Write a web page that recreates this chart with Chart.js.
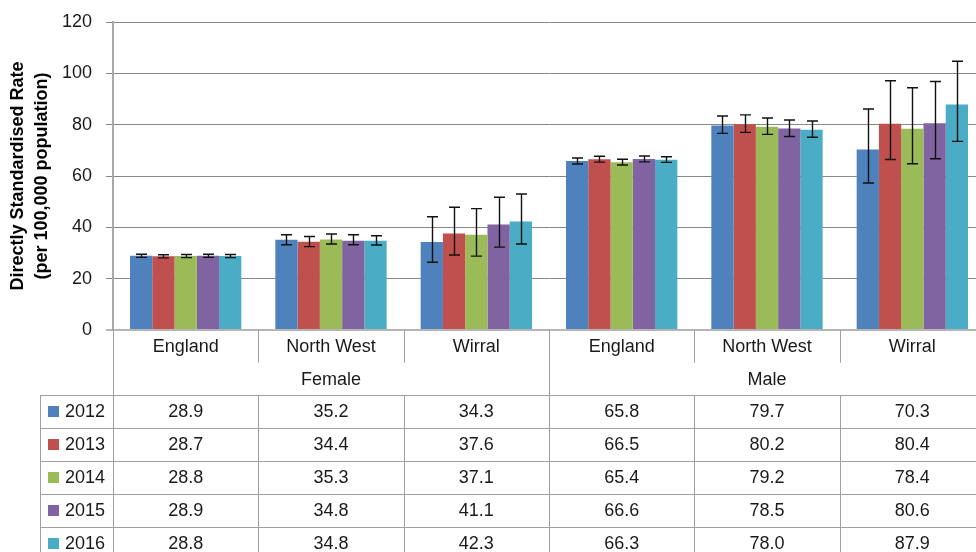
<!DOCTYPE html>
<html>
<head>
<meta charset="utf-8">
<script src="https://cdn.jsdelivr.net/npm/chart.js@4/dist/chart.umd.min.js"></script>
<style>
  html, body { margin: 0; padding: 0; background: #ffffff; overflow: hidden; }
  #wrap { width: 990px; height: 560px; position: relative; }
</style>
</head>
<body>
<div id="wrap"><canvas id="chart" width="990" height="560"></canvas></div>
<script>
// Categories: area within each sex group
const regions = ['England', 'North West', 'Wirral', 'England', 'North West', 'Wirral'];
const sexes = ['Female', 'Male'];
const years = ['2012', '2013', '2014', '2015', '2016'];

// Directly standardised rates per 100,000 population
const rate2012 = [28.9, 35.2, 34.3, 65.8, 79.7, 70.3];
const rate2013 = [28.7, 34.4, 37.6, 66.5, 80.2, 80.4];
const rate2014 = [28.8, 35.3, 37.1, 65.4, 79.2, 78.4];
const rate2015 = [28.9, 34.8, 41.1, 66.6, 78.5, 80.6];
const rate2016 = [28.8, 34.8, 42.3, 66.3, 78.0, 87.9];

// 95% confidence limits
const lower2012 = [28.3, 33.2, 26.4, 64.7, 76.6, 57.3];
const upper2012 = [29.5, 37.1, 44.1, 67.0, 83.4, 86.1];
const lower2013 = [28.1, 32.5, 29.2, 65.4, 77.0, 66.4];
const upper2013 = [29.3, 36.4, 47.8, 67.7, 83.8, 97.1];
const lower2014 = [28.2, 33.5, 28.8, 64.3, 76.2, 64.8];
const upper2014 = [29.4, 37.4, 47.3, 66.5, 82.6, 94.4];
const lower2015 = [28.3, 33.2, 32.3, 65.5, 75.4, 66.7];
const upper2015 = [29.5, 37.1, 51.7, 67.8, 81.8, 96.8];
const lower2016 = [28.2, 33.1, 33.5, 65.3, 75.1, 73.5];
const upper2016 = [29.4, 36.7, 53.0, 67.5, 81.4, 104.7];

const yTicks = [0, 20, 40, 60, 80, 100, 120];

const seriesColors = ['#4F81BD', '#C0504D', '#9BBB59', '#8064A2', '#4BACC6'];
const rates = [rate2012, rate2013, rate2014, rate2015, rate2016];
const lowers = [lower2012, lower2013, lower2014, lower2015, lower2016];
const uppers = [upper2012, upper2013, upper2014, upper2015, upper2016];

const FONT = '"Liberation Sans", Arial, sans-serif';
const TEXT = '#1a1a1a';
const LINE = '#a0a0a0';

// Confidence-interval whiskers on top of each bar
const errorBars = {
  id: 'errorBars',
  afterDatasetsDraw(chart) {
    const { ctx, scales: { y } } = chart;
    ctx.save();
    ctx.strokeStyle = '#111111';
    ctx.lineWidth = 1.4;
    chart.data.datasets.forEach((ds, di) => {
      const meta = chart.getDatasetMeta(di);
      meta.data.forEach((bar, i) => {
        const x = Math.round(bar.x) + 0.5;
        const yl = y.getPixelForValue(ds.lower[i]);
        const yh = y.getPixelForValue(ds.upper[i]);
        const cap = 5.5;
        ctx.beginPath();
        ctx.moveTo(x, yl); ctx.lineTo(x, yh);
        ctx.moveTo(x - cap, yh); ctx.lineTo(x + cap, yh);
        ctx.moveTo(x - cap, yl); ctx.lineTo(x + cap, yl);
        ctx.stroke();
      });
    });
    ctx.restore();
  }
};

// Data table under the plot: category row, sex row, one row per year
const dataTable = {
  id: 'dataTable',
  afterDraw(chart) {
    const { ctx, chartArea, scales: { x } } = chart;
    const n = regions.length;
    const step = (chartArea.right - chartArea.left) / n;
    const edges = [];
    for (let i = 0; i <= n; i++) edges.push(x.getPixelForValue(i) - step / 2);
    const top = chartArea.bottom;
    const catRow = 32.7, sexRow = 32.3, rowH = 32.9;
    const tableTop = top + catRow + sexRow;
    const bottom = tableTop + rowH * years.length;
    const keyLeft = 40;
    const px = v => Math.round(v) + 0.5;

    ctx.save();
    ctx.strokeStyle = LINE;
    ctx.lineWidth = 1;
    ctx.beginPath();
    // axis line continues down through the table, and the group divider
    [0, 3].forEach(i => { ctx.moveTo(px(edges[i]), top); ctx.lineTo(px(edges[i]), bottom); });
    // category dividers inside the label row and through the data rows
    [1, 2, 4, 5, 6].forEach(i => {
      ctx.moveTo(px(edges[i]), top); ctx.lineTo(px(edges[i]), top + catRow);
      ctx.moveTo(px(edges[i]), tableTop); ctx.lineTo(px(edges[i]), bottom);
    });
    // left border of the legend column
    ctx.moveTo(px(keyLeft), tableTop); ctx.lineTo(px(keyLeft), bottom);
    // row lines
    for (let r = 0; r <= years.length; r++) {
      const yy = px(tableTop + r * rowH);
      ctx.moveTo(keyLeft, yy); ctx.lineTo(chart.width, yy);
    }
    ctx.stroke();

    ctx.fillStyle = TEXT;
    ctx.font = '18px ' + FONT;
    ctx.textAlign = 'center';
    ctx.textBaseline = 'middle';
    regions.forEach((r, i) => ctx.fillText(r, x.getPixelForValue(i), top + catRow / 2 + 1));
    sexes.forEach((s, g) => ctx.fillText(s, (edges[g * 3] + edges[g * 3 + 3]) / 2, top + catRow + sexRow / 2 + 1));

    years.forEach((yr, r) => {
      const cy = tableTop + r * rowH + rowH / 2 + 1;
      ctx.fillStyle = seriesColors[r];
      ctx.fillRect(48, Math.round(cy - 6), 11, 11);
      ctx.fillStyle = TEXT;
      ctx.textAlign = 'left';
      ctx.fillText(yr, 65, cy);
      ctx.textAlign = 'center';
      rates[r].forEach((v, i) => ctx.fillText(v.toFixed(1), x.getPixelForValue(i), cy));
    });
    ctx.restore();
  }
};

new Chart(document.getElementById('chart'), {
  type: 'bar',
  data: {
    labels: regions,
    datasets: years.map((yr, k) => ({
      label: yr,
      data: rates[k],
      lower: lowers[k],
      upper: uppers[k],
      backgroundColor: seriesColors[k],
      borderWidth: 0,
      categoryPercentage: 0.766,
      barPercentage: 1.0
    }))
  },
  options: {
    responsive: false,
    animation: false,
    layout: { padding: { left: 0, top: 22, right: 5, bottom: 230 } },
    plugins: { legend: { display: false }, tooltip: { enabled: false } },
    scales: {
      x: { display: false, offset: true },
      y: {
        min: 0,
        max: 120,
        afterBuildTicks(scale) { scale.ticks = yTicks.map(v => ({ value: v })); },
        afterFit(scale) {
          scale.width = 113;
          scale.paddingTop = 0;
          scale.paddingBottom = 0;
        },
        ticks: { padding: 14, color: TEXT, font: { family: FONT, size: 18 } },
        grid: {
          color: c => (c.tick && c.tick.value === 0) ? '#b5b5b5' : '#888888',
          lineWidth: c => (c.tick && c.tick.value === 0) ? 2 : 1,
          tickLength: 7,
          drawTicks: true
        },
        border: { color: '#a8a8a8', width: 2 },
        title: {
          display: true,
          text: ['Directly Standardised Rate', '(per 100,000 population)'],
          color: '#000000',
          font: { family: FONT, size: 18, weight: 'bold', lineHeight: 1.28 },
          padding: { top: 7, bottom: 0 }
        }
      }
    }
  },
  plugins: [errorBars, dataTable]
});
</script>
</body>
</html>
